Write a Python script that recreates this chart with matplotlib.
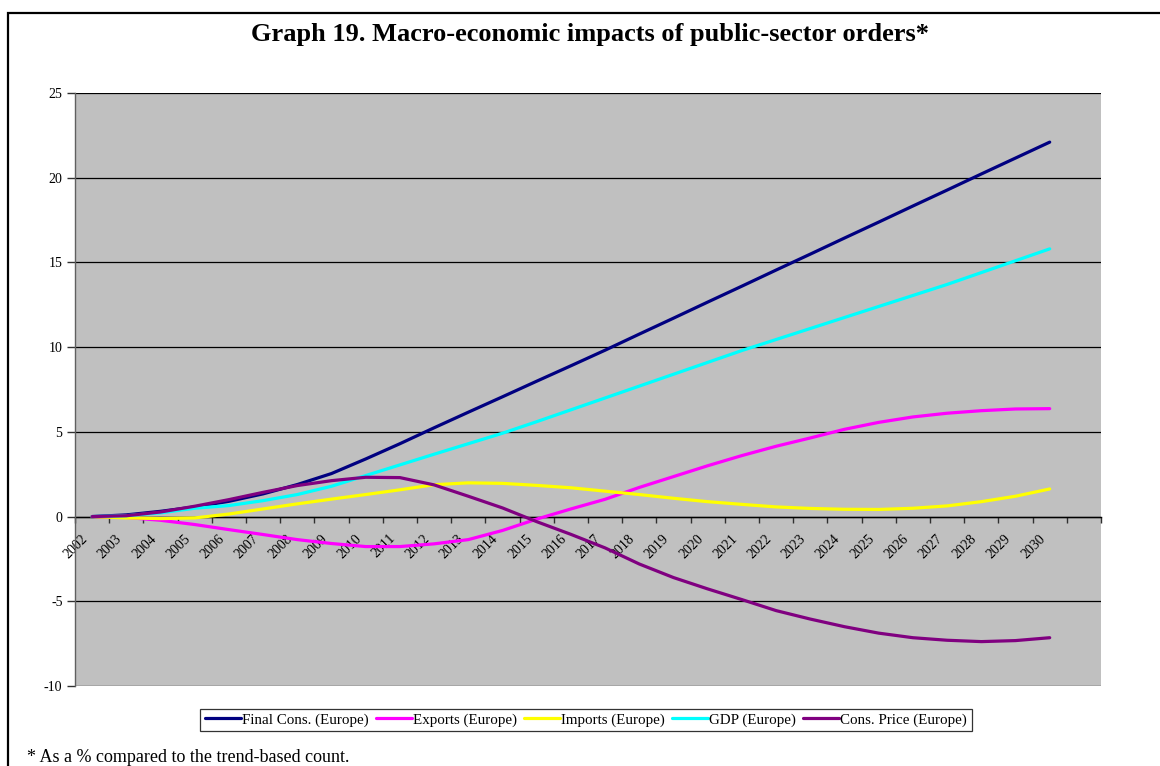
import matplotlib
matplotlib.use("Agg")
import matplotlib.pyplot as plt
from matplotlib.patches import Rectangle
from matplotlib.transforms import ScaledTranslation

plt.rcParams['font.family'] = ['Liberation Serif', 'DejaVu Serif']
plt.rcParams['axes.unicode_minus'] = False

# 各序列数值（%，相对趋势基线）
years = ['2002', '2003', '2004', '2005', '2006', '2007', '2008', '2009', '2010',
         '2011', '2012', '2013', '2014', '2015', '2016', '2017', '2018', '2019',
         '2020', '2021', '2022', '2023', '2024', '2025', '2026', '2027', '2028',
         '2029', '2030']
final_cons = [0, 0.1, 0.31, 0.57, 0.9, 1.34, 1.89, 2.54, 3.4, 4.3, 5.24, 6.16,
              7.07, 7.99, 8.9, 9.82, 10.77, 11.71, 12.66, 13.6, 14.55, 15.49,
              16.44, 17.38, 18.33, 19.27, 20.22, 21.16, 22.1]
exports = [0, -0.05, -0.22, -0.47, -0.77, -1.06, -1.36, -1.59, -1.77, -1.77,
           -1.61, -1.36, -0.82, -0.15, 0.45, 1.02, 1.72, 2.36, 3.0, 3.6, 4.15,
           4.64, 5.15, 5.56, 5.88, 6.1, 6.25, 6.35, 6.37]
imports = [0, -0.08, -0.12, -0.08, 0.15, 0.45, 0.75, 1.03, 1.3, 1.58, 1.88,
           1.99, 1.96, 1.84, 1.7, 1.5, 1.3, 1.08, 0.88, 0.72, 0.57, 0.48, 0.43,
           0.42, 0.49, 0.63, 0.88, 1.2, 1.63]
gdp = [0, 0.05, 0.22, 0.49, 0.65, 0.94, 1.3, 1.79, 2.42, 3.05, 3.68, 4.3, 4.92,
       5.6, 6.3, 7.0, 7.7, 8.4, 9.1, 9.8, 10.45, 11.1, 11.75, 12.4, 13.05, 13.7,
       14.4, 15.1, 15.8]
cons_price = [0, 0.05, 0.27, 0.61, 1.0, 1.43, 1.83, 2.12, 2.32, 2.3, 1.87, 1.2,
              0.51, -0.3, -1.05, -1.85, -2.8, -3.6, -4.27, -4.9, -5.55, -6.05,
              -6.5, -6.88, -7.15, -7.3, -7.38, -7.32, -7.15]

series = [
    ('Final Cons. (Europe)', final_cons, '#000080'),
    ('Exports (Europe)', exports, '#FF00FF'),
    ('Imports (Europe)', imports, '#FFFF00'),
    ('GDP (Europe)', gdp, '#00FFFF'),
    ('Cons. Price (Europe)', cons_price, '#800080'),
]

n_cat = len(years) + 1  # 最后一个类别为空

fig = plt.figure(figsize=(11.6, 7.66), dpi=100)
ax = fig.add_axes([75 / 1160, 1 - 686 / 766, 1026 / 1160, 593 / 766])
ax.set_facecolor('#C0C0C0')

# 外框（只露出上边和左边）
fig.patches.append(Rectangle((8 / 1160, -0.05), 1.1, 1 - 13 / 766 + 0.05,
                             transform=fig.transFigure, fill=False,
                             edgecolor='black', linewidth=1.6, clip_on=False))

x = list(range(len(years)))
for name, vals, col in series:
    ax.plot(x, vals, color=col, lw=2.3, label=name, solid_capstyle='round',
            solid_joinstyle='round', zorder=3)

ax.set_xlim(-0.5, n_cat - 0.5)
ax.set_ylim(-10, 25)
ax.set_yticks(range(-10, 26, 5))
for v in range(-10, 26, 5):
    ax.axhline(v, color='black', lw=0.9, zorder=1)

for s in ['top', 'right']:
    ax.spines[s].set_visible(False)
ax.spines['left'].set_color('#606060')
ax.spines['left'].set_linewidth(1.0)
ax.spines['bottom'].set_position(('data', 0))
ax.spines['bottom'].set_linewidth(1.0)
ax.spines['bottom'].set_zorder(2)

# 类别分隔刻度与年份标签
ax.set_xticks([i - 0.5 for i in range(n_cat + 1)])
ax.set_xticklabels([])
ax.set_xticks(x, minor=True)
ax.set_xticklabels(years, minor=True, rotation=45, ha='right', va='top',
                   rotation_mode='anchor', fontsize=10)
ax.tick_params(axis='x', which='major', direction='out', length=4, width=1,
               color='#303030')
ax.tick_params(axis='x', which='minor', length=0, pad=6)
ax.tick_params(axis='y', direction='out', length=6, width=1, labelsize=10,
               pad=3, color='#303030')
shift = ScaledTranslation(-11 / 100, -7 / 100, fig.dpi_scale_trans)
for lab in ax.get_xticklabels(minor=True):
    lab.set_transform(lab.get_transform() + shift)

fig.text(590 / 1160, 1 - 35 / 766, 'Graph 19. Macro-economic impacts of public-sector orders*',
         ha='center', va='center', fontsize=19, fontweight='bold')

leg = fig.legend(loc='center', bbox_to_anchor=(586 / 1160, 1 - 720 / 766),
                 ncol=5, fontsize=10.8, frameon=True, fancybox=False,
                 edgecolor='black', handlelength=2.4, handletextpad=0.1,
                 columnspacing=0.45, borderpad=0.3)
leg.get_frame().set_linewidth(0.9)
for h in leg.get_lines():
    h.set_linewidth(2.3)

fig.text(27 / 1160, 1 - 757 / 766, '* As a % compared to the trend-based count.',
         ha='left', va='center', fontsize=13)

fig.savefig('out.png', dpi=100)
